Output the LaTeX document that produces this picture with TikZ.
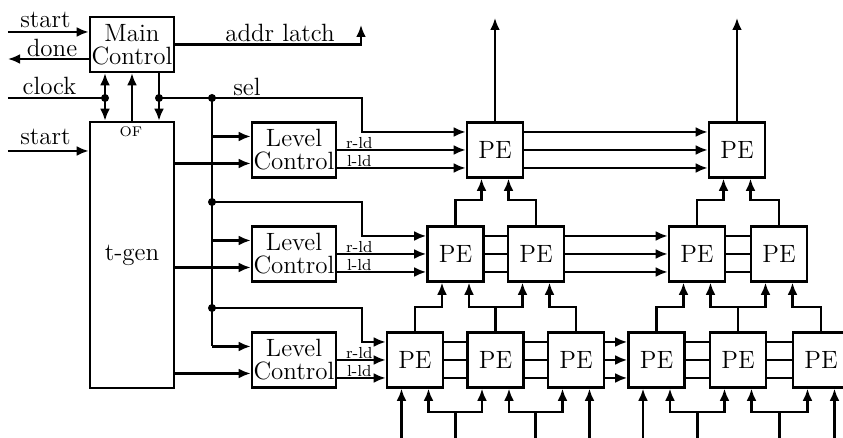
\documentclass[tikz,border=0pt]{standalone}
\usetikzlibrary{arrows.meta,calc}
\begin{document}
\begin{tikzpicture}[x=0.5pt,y=-0.5pt,
  box/.style={draw, line width=1.3pt, inner sep=0pt, align=center, font=\fontsize{12.5}{11.5}\selectfont},
  pebox/.style={box, minimum width=28pt, minimum height=27.5pt},
  lcbox/.style={box, minimum width=42pt, minimum height=27.5pt},
  wire/.style={line width=1.3pt},
  arr/.style={wire, -{Latex[length=6pt,width=5pt]}},
  jdot/.style={circle, fill, inner sep=0pt, minimum size=4pt},
  lbl/.style={font=\fontsize{12.5}{13}\selectfont, inner sep=0pt},
  small/.style={font=\fontsize{8}{9}\selectfont, inner sep=0pt},
  tinylbl/.style={font=\fontsize{7}{8}\selectfont, inner sep=0pt}]
\useasboundingbox (0,0) rectangle (843,438);

% blocks
\node[lcbox] (main) at (132,44.5) {Main\\Control};
\node[box, minimum width=42pt, minimum height=133pt] (tgen) at (132,255) {t-gen};
\node[lcbox] (lc1) at (294,150) {Level\\Control};
\node[lcbox] (lc2) at (294,254) {Level\\Control};
\node[lcbox] (lc3) at (294,360) {Level\\Control};

\node[pebox] (pe1a) at (495,150) {PE};
\node[pebox] (pe1b) at (737,150) {PE};
\node[pebox] (pe2a) at (455.5,254) {PE};
\node[pebox] (pe2b) at (536,254) {PE};
\node[pebox] (pe2c) at (697,254) {PE};
\node[pebox] (pe2d) at (779,254) {PE};
\node[pebox] (pe3a) at (415,360) {PE};
\node[pebox] (pe3b) at (495.5,360) {PE};
\node[pebox] (pe3c) at (576,360) {PE};
\node[pebox] (pe3d) at (656.5,360) {PE};
\node[pebox] (pe3e) at (738,360) {PE};
\node[pebox] (pe3f) at (821,360) {PE};

% labels
\node[lbl] (tstart) at (45.5,20) {start};
\node[lbl] (tdone) at (52,48) {done};
\node[lbl] (tclock) at (49.5,86) {clock};
\node[lbl] (tstart2) at (45.5,137) {start};
\node[lbl] (tsel) at (247,87) {sel};
\node[lbl] (taddr) at (280,33) {addr latch};
\node[tinylbl] (tof) at (131,132) {OF};

% top-left signals
\coordinate (sA) at (8,32);
\draw[arr] (sA) -- (sA -| main.west);
\coordinate (dA) at (8,59);
\draw[arr] (dA -| main.west) -- (dA);
\coordinate (ck) at (8,98);
\coordinate (ckj) at (105,98);
\draw[wire] (ck) -- (ckj);
\draw[arr] (ckj) -- (ckj |- main.south);
\draw[arr] (ckj) -- (ckj |- tgen.north);
\draw[arr] (tgen.north) -- (main.south);
\coordinate (sj) at (159,98);
\draw[wire] (sj |- main.south) -- (sj);
\draw[arr] (sj) -- (sj |- tgen.north);
\coordinate (sB) at (8,151);
\draw[arr] (sB) -- (sB -| tgen.west);
\coordinate (al) at (361,25);
\draw[arr] (main.east) -| (al);

% sel bus
\coordinate (b0) at (212,98);
\coordinate (b1) at (212,202);
\coordinate (b2) at (212,308);
\draw[wire] (sj) -- (b0);
\foreach \r/\pe/\lc/\bj in {1/pe1a/lc1/b0, 2/pe2a/lc2/b1, 3/pe3a/lc3/b2} {
  \path ($(\pe.west)+(0,-18)$) coordinate (pin);
  \draw[arr] (\bj) -- (\bj -| 362,0) -- (pin -| 362,0) -- (pin);
  \path ($(\lc.west)+(0,-13.5)$) coordinate (li);
  \draw[arr] (li -| b0) -- (li);
  \path ($(\lc.west)+(0,13.5)$) coordinate (lt);
  \draw[arr] (lt -| tgen.east) -- (lt);
  \draw[arr] (\lc.east) -- (\pe.west);
  \draw[arr] ($(\lc.east)+(0,18)$) -- ($(\pe.west)+(0,18)$);
  \node[small] at ($(\lc.east)+(22,-7)$) {r-ld};
  \node[small] at ($(\lc.east)+(22,11)$) {l-ld};
}
\path ($(lc3.west)+(0,-13.5)$) coordinate (bend);
\draw[wire] (b0) -- (bend -| b0);
\foreach \d in {ckj, sj, b0, b1, b2} \node[jdot] at (\d) {};

% PE horizontal links
\foreach \a/\b in {pe2a/pe2b, pe2c/pe2d, pe3a/pe3b, pe3b/pe3c, pe3d/pe3e, pe3e/pe3f}
  \foreach \o in {-18,0,18}
    \draw[wire] ($(\a.east)+(0,\o)$) -- ($(\b.west)+(0,\o)$);
\foreach \a/\b in {pe1a/pe1b, pe2b/pe2c, pe3c/pe3d}
  \foreach \o in {-18,0,18}
    \draw[arr] ($(\a.east)+(0,\o)$) -- ($(\b.west)+(0,\o)$);

% top outputs
\draw[arr] (pe1a.north) -- (pe1a.north |- 0,18);
\draw[arr] (pe1b.north) -- (pe1b.north |- 0,18);

% tree links
\foreach \c/\p/\o/\y in {pe2a/pe1a/-13.5/200, pe2b/pe1a/13.5/200, pe2c/pe1b/-13.5/200, pe2d/pe1b/13.5/200,
  pe3a/pe2a/-13.5/307, pe3b/pe2a/13.5/307, pe3b/pe2b/-13.5/307, pe3c/pe2b/13.5/307,
  pe3d/pe2c/-13.5/307, pe3e/pe2c/13.5/307, pe3e/pe2d/-13.5/307, pe3f/pe2d/13.5/307}
  \draw[arr] (\c.north) -- (\c.north |- 0,\y) -| ($(\p.south)+(\o,0)$);

% bottom inputs
\foreach \p/\o in {pe3a/-13.5, pe3c/13.5, pe3d/-13.5, pe3f/13.5} {
  \path ($(\p.south)+(\o,0)$) coordinate (tin);
  \draw[arr] (tin |- 0,440) -- (tin);
}
\foreach \l/\r in {pe3a/pe3b, pe3b/pe3c, pe3d/pe3e, pe3e/pe3f} {
  \path ($(\l.south)!0.5!(\r.south)$) coordinate (mid);
  \draw[wire] (mid |- 0,440) -- (mid |- 0,412);
  \draw[arr] (mid |- 0,412) -| ($(\l.south)+(13.5,0)$);
  \draw[arr] (mid |- 0,412) -| ($(\r.south)+(-13.5,0)$);
}
\end{tikzpicture}
\end{document}
